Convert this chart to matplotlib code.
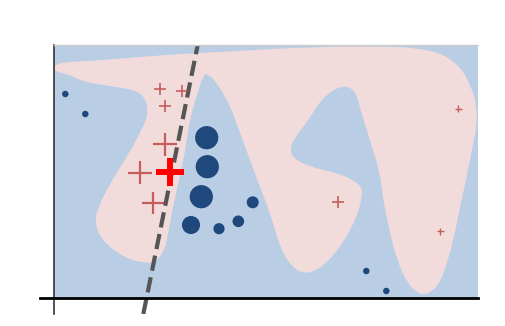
import numpy as np
import matplotlib
matplotlib.use("Agg")
import matplotlib.pyplot as plt
from matplotlib.path import Path
from matplotlib.patches import PathPatch

# ---- data (arbitrary units, origin at the lower-left corner of the shaded area) ----
X_MAX, Y_MAX = 42.4, 25.3

# outline of the pink (positive) decision region
region_x = [0.0, 1.1, 3.6, 8.6, 12.6, 18.3, 25.6, 32.6, 36.3, 38.6, 39.9, 40.9, 41.6, 42.1,
            42.3, 42.2, 41.8, 41.2, 40.6, 40.1, 39.4, 38.6, 37.6, 36.6, 35.3, 34.3, 33.6,
            32.9, 32.6, 31.6, 30.8, 30.3, 29.8, 28.9, 27.9, 26.6, 25.6, 23.9, 23.6, 23.9,
            25.6, 28.3, 29.9, 30.8, 30.8, 30.3, 28.9, 27.3, 25.9, 24.9, 23.9, 22.9, 22.3,
            21.6, 20.6, 19.6, 18.6, 17.9, 17.3, 16.3, 15.3, 14.9, 14.3, 13.6, 13.3, 12.8,
            12.2, 11.7, 11.3, 10.9, 10.1, 9.3, 7.6, 5.9, 4.6, 4.1, 4.3, 5.6, 7.3, 8.6, 9.2,
            9.4, 9.1, 8.3, 6.9, 3.6, 2.6, 1.6, 0.0]
region_y = [23.3, 23.6, 23.7, 24.1, 24.4, 24.7, 25.1, 25.17, 25.0, 24.5, 23.7, 22.7, 21.3,
            20.0, 18.3, 16.8, 14.8, 11.8, 9.1, 6.5, 3.8, 1.5, 0.5, 0.3, 1.5, 3.8, 6.5, 9.8,
            12.5, 15.8, 18.3, 20.2, 21.0, 21.2, 20.8, 19.7, 18.0, 15.8, 14.8, 14.0, 13.1,
            12.5, 11.8, 11.1, 10.1, 8.1, 5.5, 3.5, 2.6, 2.5, 3.0, 4.5, 6.1, 8.5, 11.1, 13.8,
            16.5, 18.5, 19.8, 21.5, 22.5, 22.2, 20.3, 18.0, 15.8, 13.1, 10.5, 8.1, 5.8, 4.5,
            3.6, 3.5, 3.8, 4.8, 6.1, 7.5, 8.8, 11.5, 14.1, 16.5, 17.8, 18.8, 20.0, 20.7,
            21.0, 21.5, 21.8, 22.3, 22.7]

# negative samples (circles) and their weights
neg_x = [1.13, 3.13, 15.27, 15.33, 14.73, 13.7, 16.5, 18.43, 19.87, 31.23, 33.23]
neg_y = [20.4, 18.4, 16.03, 13.13, 10.13, 7.3, 6.93, 7.67, 9.57, 2.7, 0.7]
neg_w = [22, 22, 280, 280, 280, 170, 65, 70, 75, 22, 22]

# positive samples (crosses) and their weights
pos_x = [10.6, 12.77, 11.13, 11.1, 8.6, 9.93, 28.4, 40.43, 38.63]
pos_y = [20.9, 20.7, 19.2, 15.37, 12.53, 9.47, 9.57, 18.93, 6.67]
pos_w = [75, 75, 75, 275, 275, 250, 75, 25, 25]

# highlighted new sample
new_x, new_y, new_w = [11.6], [12.63], [378]

# linear decision boundary
line_x = [8.93, 14.37]
line_y = [-1.6, 25.3]

BLUE_BG = "#b9cde4"
PINK_BG = "#f2dcdb"
DARK_BLUE = "#1f497d"
RED = "#c0504d"


def smooth_closed_path(xs, ys):
    # quadratic B-spline through the outline: vertices act as control points
    pts = np.column_stack([xs, ys])
    nxt = np.roll(pts, -1, axis=0)
    mids = (pts + nxt) / 2
    verts = [mids[-1]]
    codes = [Path.MOVETO]
    for p, m in zip(pts, mids):
        verts += [p, m]
        codes += [Path.CURVE3, Path.CURVE3]
    verts.append(mids[-1])
    codes.append(Path.CLOSEPOLY)
    return Path(verts, codes)


fig = plt.figure(figsize=(5.06, 3.26), dpi=100)
ax = fig.add_axes([40 / 506, 12 / 326, 438 / 506, 269 / 326])

ax.fill_between([0, X_MAX], 0, Y_MAX, color=BLUE_BG, lw=0, zorder=0)
ax.add_patch(PathPatch(smooth_closed_path(region_x, region_y),
                       facecolor=PINK_BG, edgecolor="none", zorder=1))

ax.plot(line_x, line_y, color="#555555", lw=3, ls="--", zorder=2)

ax.scatter(neg_x, neg_y, s=neg_w, color=DARK_BLUE, edgecolors="none", zorder=3)
pos_lw = [1.0 if w < 50 else (1.2 if w < 100 else 1.6) for w in pos_w]
ax.scatter(pos_x, pos_y, s=pos_w, marker="+", color=RED, alpha=0.9,
           linewidths=pos_lw, zorder=3)
ax.scatter(new_x, new_y, s=new_w, marker="+", color="#ff0000", linewidths=4.3, zorder=4)

ax.set_xlim(-1.4, X_MAX)
ax.set_ylim(-1.6, Y_MAX)
ax.set_xticks([])
ax.set_yticks([])

ax.spines["left"].set_position(("data", 0))
ax.spines["left"].set_color("#333333")
ax.spines["left"].set_linewidth(1.2)
ax.spines["bottom"].set_position(("data", 0))
ax.spines["bottom"].set_color("black")
ax.spines["bottom"].set_linewidth(2)
ax.spines["right"].set_visible(False)
ax.spines["top"].set_color("#cccccc")
ax.spines["top"].set_linewidth(1)
ax.spines["top"].set_bounds(0, X_MAX)

fig.savefig("out.png", dpi=100)
